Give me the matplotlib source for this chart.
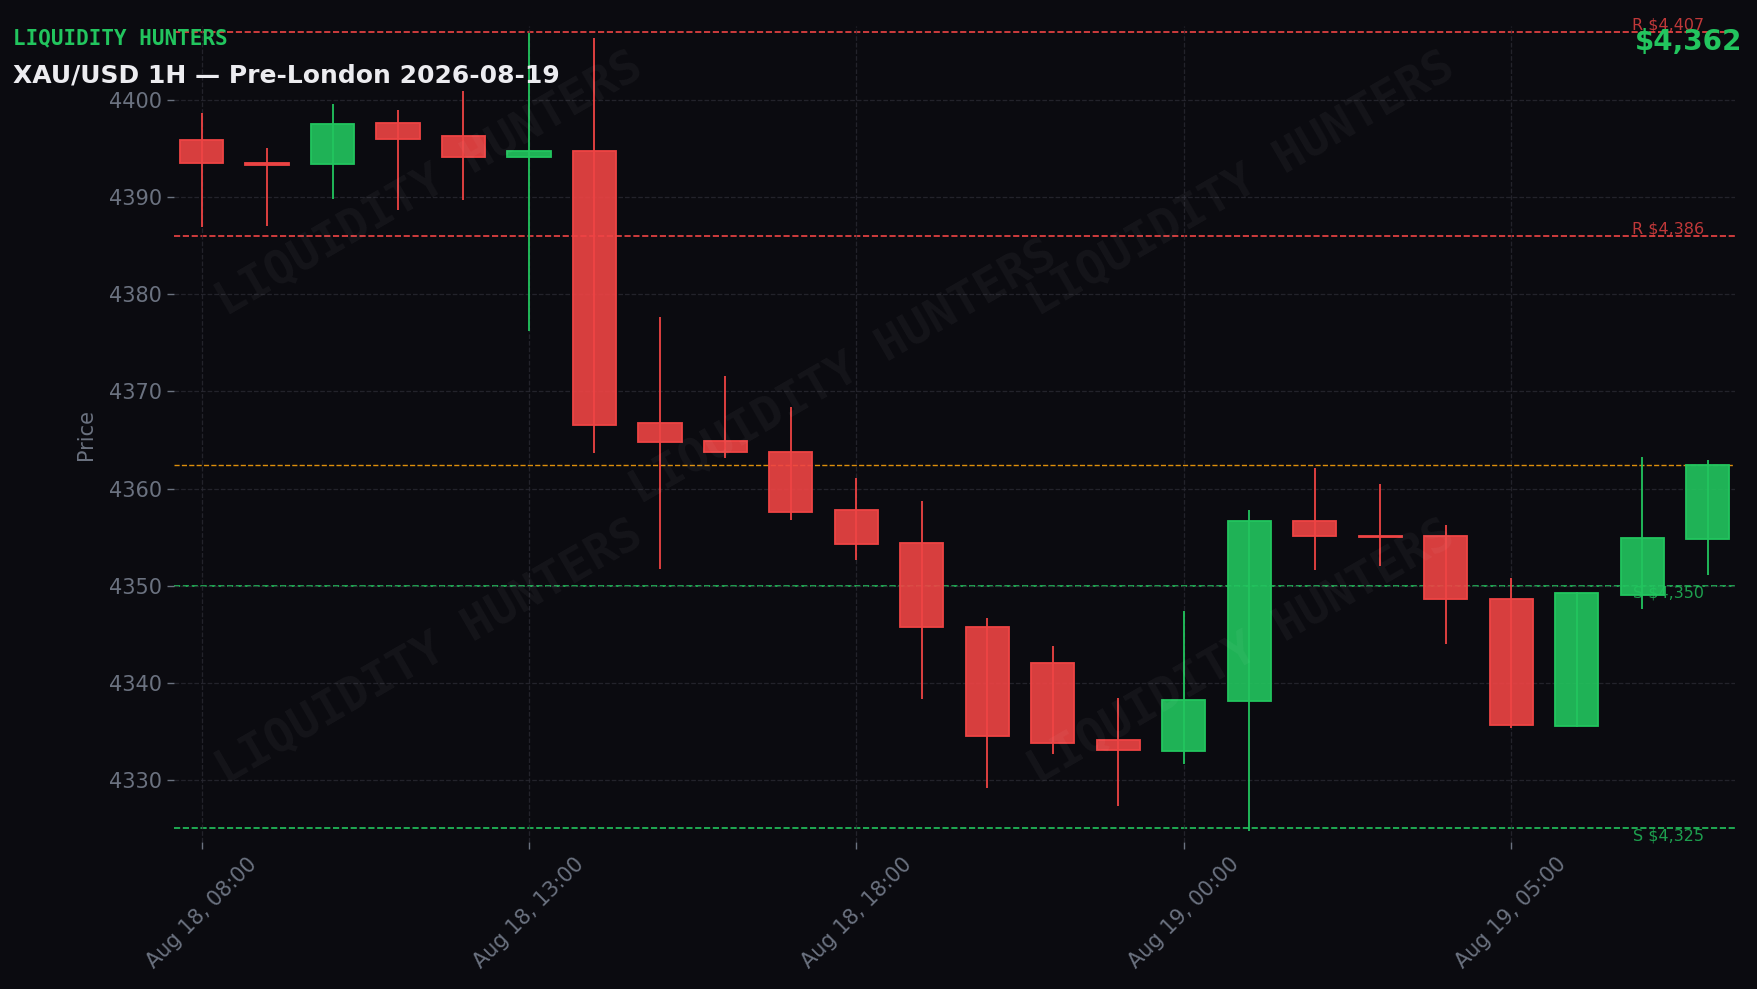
import matplotlib
matplotlib.use("Agg")
import matplotlib.pyplot as plt
from matplotlib.patches import Rectangle
from matplotlib.transforms import blended_transform_factory
from datetime import datetime

# 1H candles (x axis is bar index, non-trading hour skipped)
times = ["2026-08-18 08:00", "2026-08-18 09:00", "2026-08-18 10:00", "2026-08-18 11:00",
         "2026-08-18 12:00", "2026-08-18 13:00", "2026-08-18 14:00", "2026-08-18 15:00",
         "2026-08-18 16:00", "2026-08-18 17:00", "2026-08-18 18:00", "2026-08-18 19:00",
         "2026-08-18 20:00", "2026-08-18 22:00", "2026-08-18 23:00", "2026-08-19 00:00",
         "2026-08-19 01:00", "2026-08-19 02:00", "2026-08-19 03:00", "2026-08-19 04:00",
         "2026-08-19 05:00", "2026-08-19 06:00", "2026-08-19 07:00", "2026-08-19 08:00"]
opens = [4395.9, 4393.5, 4393.4, 4397.7, 4396.3, 4394.2, 4394.8, 4366.8,
         4364.9, 4363.8, 4357.8, 4354.4, 4345.7, 4342.0, 4334.1, 4333.0,
         4338.1, 4356.7, 4355.1, 4355.1, 4348.6, 4335.5, 4349.0, 4354.8]
highs = [4398.7, 4395.1, 4399.6, 4399.0, 4400.9, 4406.9, 4406.4, 4377.7,
         4371.6, 4368.4, 4361.1, 4358.7, 4346.7, 4343.8, 4338.4, 4347.4,
         4357.8, 4362.1, 4360.5, 4356.2, 4350.8, 4349.4, 4363.3, 4362.9]
lows = [4386.9, 4387.0, 4389.8, 4388.7, 4389.7, 4376.2, 4363.7, 4351.7,
        4363.1, 4356.8, 4352.6, 4338.3, 4329.2, 4332.7, 4327.3, 4331.6,
        4324.7, 4351.6, 4352.0, 4344.0, 4335.3, 4335.4, 4347.6, 4351.1]
closes = [4393.5, 4393.3, 4397.6, 4396.0, 4394.1, 4394.8, 4366.6, 4364.8,
          4363.8, 4357.6, 4354.3, 4345.7, 4334.5, 4333.8, 4333.1, 4338.2,
          4356.7, 4355.1, 4355.0, 4348.6, 4335.7, 4349.2, 4354.9, 4362.4]

resistance = [4407, 4386]
support = [4350, 4325]

BG = "#0b0b10"
UP = "#22c55e"
DOWN = "#ef4444"
MUTED = "#6b7280"

fig = plt.figure(figsize=(17.58, 9.89), dpi=100, facecolor=BG)
ax = fig.add_axes([0.099, 0.1486, 0.888, 0.8247], facecolor=BG)

w = 0.66
for i in range(len(opens)):
    o, h, l, c = opens[i], highs[i], lows[i], closes[i]
    col = UP if c >= o else DOWN
    ax.vlines(i, l, h, color=col, linewidth=1.3, zorder=2)
    bottom = min(o, c)
    height = max(abs(c - o), 0.15)
    ax.add_patch(Rectangle((i - w / 2, bottom), w, height, facecolor=col, alpha=0.9,
                           edgecolor="none", zorder=3))
    ax.add_patch(Rectangle((i - w / 2, bottom), w, height, facecolor="none",
                           edgecolor=col, linewidth=1.3, zorder=3))

# support / resistance / last price
trans = blended_transform_factory(ax.transAxes, ax.transData)
for r in resistance:
    ax.axhline(r, color=DOWN, linestyle="--", linewidth=1.2, zorder=1)
    ax.text(0.98, r, f"R ${r:,}", transform=trans, ha="right", va="bottom",
            color=DOWN, alpha=0.8, fontsize=11.5)
for s in support:
    ax.axhline(s, color=UP, linestyle="--", linewidth=1.2, zorder=1)
    ax.text(0.98, s, f"S ${s:,}", transform=trans, ha="right", va="top",
            color=UP, alpha=0.8, fontsize=11.5)
ax.axhline(closes[-1], color="#f59e0b", linestyle="--", linewidth=1.0, alpha=0.9, zorder=1)

ax.set_xlim(-0.42, len(opens) - 1 + 0.42)
ax.set_ylim(4323.6, 4407.6)

xt = list(range(0, len(times), 5))
ax.set_xticks(xt)
ax.set_xticklabels([datetime.strptime(times[i], "%Y-%m-%d %H:%M").strftime("%b %d, %H:%M")
                    for i in xt], rotation=45)
ax.set_yticks(range(4330, 4401, 10))
ax.tick_params(colors=MUTED, labelsize=15, length=5, width=1)
ax.grid(True, color="#2a2a33", linestyle="--", linewidth=0.9, alpha=0.8)
for sp in ax.spines.values():
    sp.set_visible(False)
ax.set_ylabel("Price", color=MUTED, fontsize=15)
ax.yaxis.set_label_coords(-0.05, 0.5)

# header texts
fig.text(0.0075, 0.9552, "LIQUIDITY HUNTERS", color=UP, fontsize=15,
         fontweight="bold", family="DejaVu Sans Mono", va="baseline")
fig.text(0.0075, 0.9168, "XAU/USD 1H \u2014 Pre-London 2026-08-19", color="#ececf0",
         fontsize=18, fontweight="bold", va="baseline")
fig.text(0.991, 0.9494, f"${closes[-1]:,.0f}", color=UP, fontsize=20,
         fontweight="bold", ha="right", va="baseline")

# watermark
for x, y in [(0.244, 0.813), (0.48, 0.623), (0.706, 0.813), (0.244, 0.34), (0.706, 0.34)]:
    fig.text(x, y, "LIQUIDITY HUNTERS", color="white", alpha=0.045, fontsize=34,
             fontweight="bold", family="DejaVu Sans Mono", rotation=30,
             ha="center", va="center")

fig.savefig("out.png", dpi=100, facecolor=BG)
